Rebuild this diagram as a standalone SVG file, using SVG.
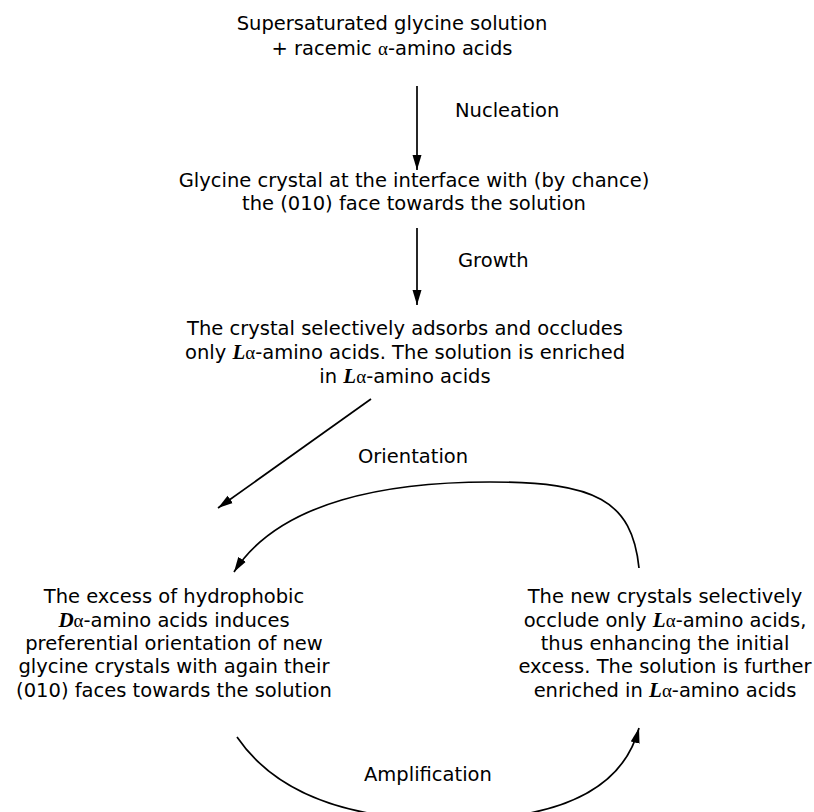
<svg xmlns="http://www.w3.org/2000/svg" width="814" height="812" viewBox="0 0 814 812">
<defs>
<style>
text{font-family:"DejaVu Sans",Verdana,sans-serif;font-size:19.5px;fill:#000}
.c{text-anchor:middle}
.v{font-family:"Liberation Serif","Times New Roman",serif;font-weight:bold;font-style:italic;font-size:21px}
.a{font-family:"Liberation Serif","Times New Roman",serif;font-size:19px}
.ln{fill:none;stroke:#000;stroke-width:1.7;marker-end:url(#ah)}
</style>
<marker id="ah" markerUnits="userSpaceOnUse" markerWidth="16" markerHeight="10" refX="15" refY="5" orient="auto">
<path d="M0,0.5 L15,5 L0,9.5 Z" fill="#000"/>
</marker>
</defs>
<rect width="814" height="812" fill="#fff"/>
<g id="n1">
<text class="c" x="392" y="30">Supersaturated glycine solution</text>
<text class="c" x="392" y="55">+ racemic <tspan class="a">α</tspan>-amino acids</text>
</g>
<g id="n2">
<text class="c" x="414" y="187">Glycine crystal at the interface with (by chance)</text>
<text class="c" x="414" y="210">the (010) face towards the solution</text>
</g>
<g id="n3">
<text class="c" x="405" y="335">The crystal selectively adsorbs and occludes</text>
<text class="c" x="405" y="359">only <tspan class="v">L</tspan><tspan class="a">α</tspan>-amino acids. The solution is enriched</text>
<text class="c" x="405" y="383">in <tspan class="v">L</tspan><tspan class="a">α</tspan>-amino acids</text>
</g>
<g id="n4">
<text class="c" x="174" y="603">The excess of hydrophobic</text>
<text class="c" x="174" y="627"><tspan class="v">D</tspan><tspan class="a">α</tspan>-amino acids induces</text>
<text class="c" x="174" y="650">preferential orientation of new</text>
<text class="c" x="174" y="673">glycine crystals with again their</text>
<text class="c" x="174" y="697">(010) faces towards the solution</text>
</g>
<g id="n5">
<text class="c" x="665" y="603">The new crystals selectively</text>
<text class="c" x="665" y="627">occlude only <tspan class="v">L</tspan><tspan class="a">α</tspan>-amino acids,</text>
<text class="c" x="665" y="650">thus enhancing the initial</text>
<text class="c" x="665" y="673">excess. The solution is further</text>
<text class="c" x="665" y="697">enriched in <tspan class="v">L</tspan><tspan class="a">α</tspan>-amino acids</text>
</g>
<g id="connectors">
<path class="ln" d="M417,86 L417,170"/>
<path class="ln" d="M417,228 L417,305"/>
<path class="ln" d="M371,399 L218,508"/>
<path class="ln" d="M639,568 C632,500 595,482 490,482 C390,482 280,500 234,572"/>
<path class="ln" d="M237,737 C280,800 360,820 450,820 C540,820 620,800 639,728"/>
<text x="455" y="117">Nucleation</text>
<text x="458" y="267">Growth</text>
<text x="358" y="463">Orientation</text>
<text x="364" y="781">Amplification</text>
</g>
</svg>
